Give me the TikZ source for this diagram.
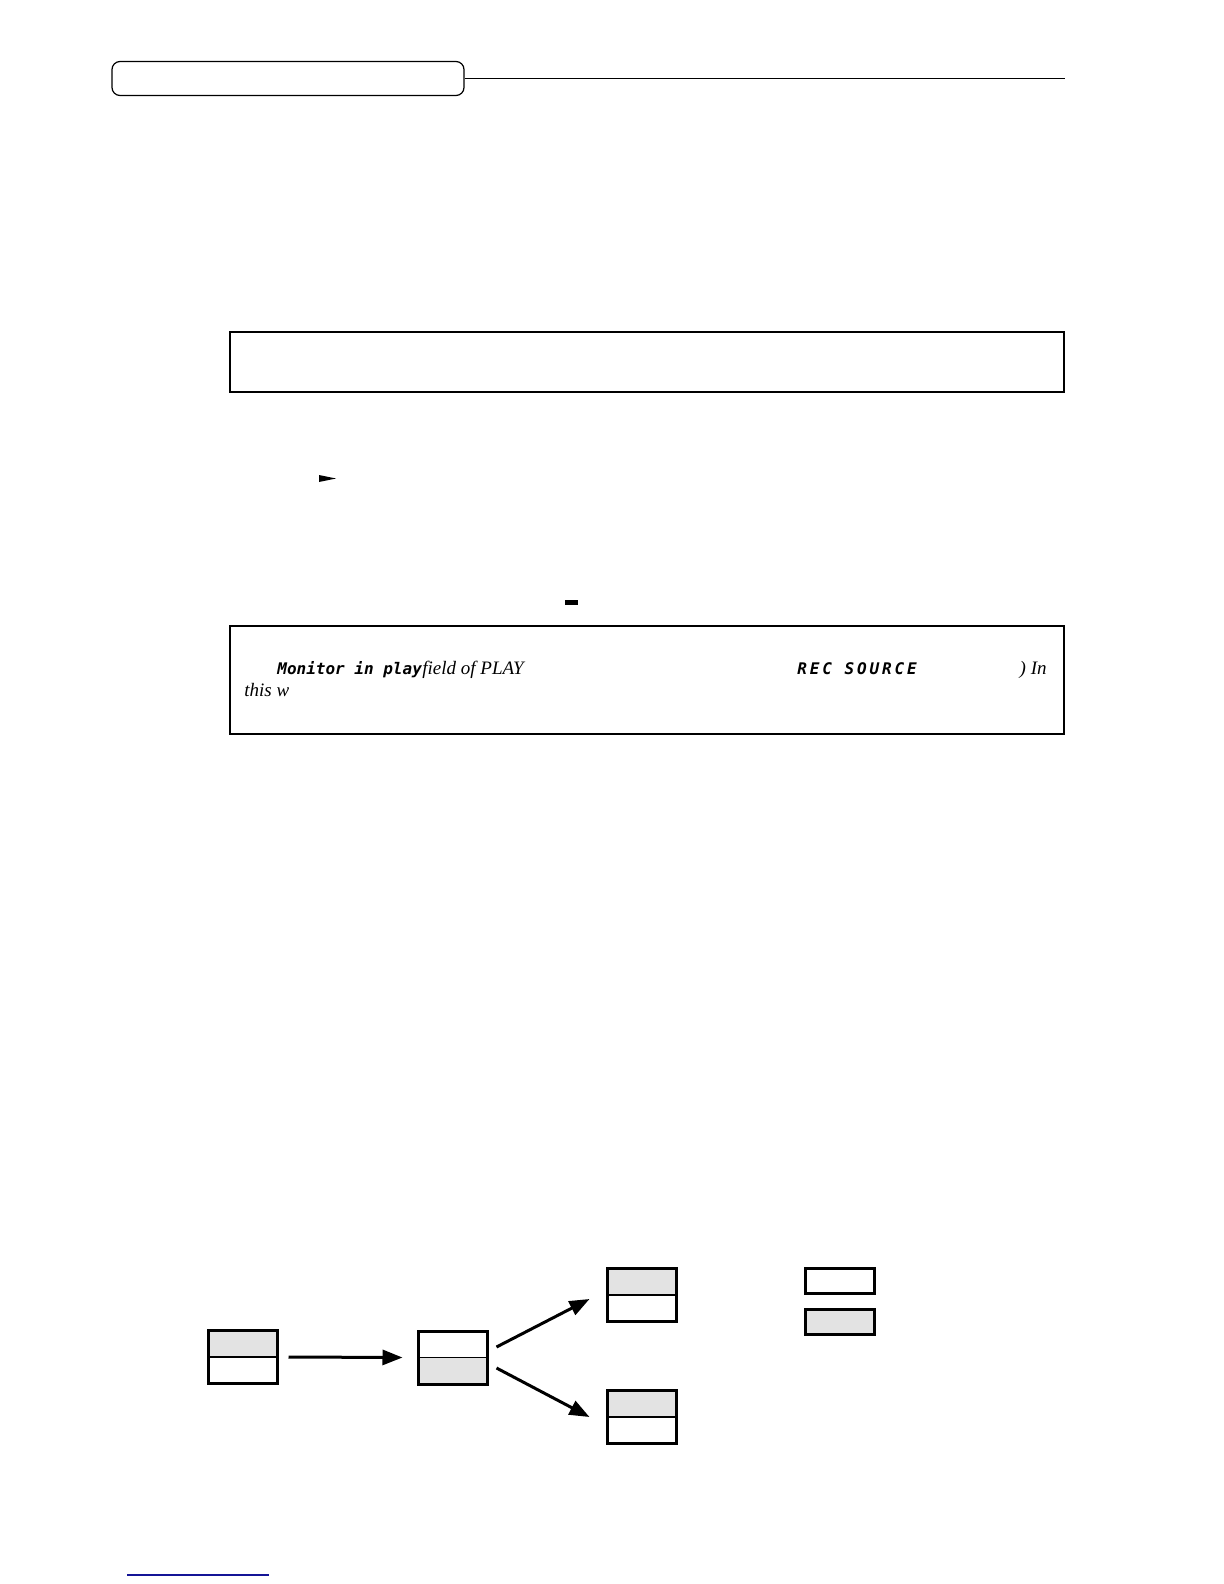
\documentclass[tikz,border=0pt]{standalone}
\usepackage{fontspec}
\setmainfont{Liberation Serif}
\setmonofont{DejaVu Sans Mono}
\usepackage{tikz}
\usetikzlibrary{arrows.meta,calc,positioning}
\definecolor{cellgray}{RGB}{227,227,227}
\definecolor{linkblue}{RGB}{20,20,150}
\tikzset{
cell/.style={draw,line width=1.5pt,minimum width=34.5pt,minimum height=26.5pt,inner sep=0pt},
graytop/.style={cell,path picture={
  \fill[cellgray] (path picture bounding box.north west) rectangle (path picture bounding box.east);
  \draw[line width=0.6pt] (path picture bounding box.west) -- (path picture bounding box.east);}},
graybottom/.style={cell,path picture={
  \fill[cellgray] (path picture bounding box.south west) rectangle (path picture bounding box.east);
  \draw[line width=0.6pt] (path picture bounding box.west) -- (path picture bounding box.east);}},
flow/.style={line width=1.5pt,-{Triangle[length=10pt,width=7.5pt]}},
lcd/.style={font=\fontsize{8}{10}\ttfamily\bfseries\itshape,anchor=base west,inner sep=0pt},
note/.style={font=\fontsize{9.5}{11}\selectfont\itshape,anchor=base west,inner sep=0pt}
}
\begin{document}
\begin{tikzpicture}[x=0.5pt,y=-0.5pt]
\useasboundingbox (0,0) rectangle (1224,1584);

\node (hdr) at (288,78.5) [draw,rounded corners=4pt,line width=0.6pt,minimum width=176pt,minimum height=17pt] {};
\coordinate (hdrend) at (1065,78.5);
\draw[line width=0.5pt] (hdr.east) -- (hdrend);

\node (tipbox) at (646.5,361.5) [draw,line width=1pt,minimum width=417pt,minimum height=30pt] {};

\fill (319,475) -- (336,478.5) -- (319,482) -- cycle;
\fill (565,600) rectangle (578,605);

\node (notebox) at (646.5,679.5) [draw,line width=1pt,minimum width=417pt,minimum height=54pt] {};
\node (mon) at (277,674) [lcd] {Monitor in play};
\node (fld) at (422,674) [note] {field of PLAY};
\node (recsrc) at (797,674) [lcd,font=\fontsize{8}{10}\ttfamily\bfseries\itshape\addfontfeature{LetterSpace=18}] {REC SOURCE};
\node (inw) at (1047,674) [note,anchor=base east] {) In};
\node (thisw) at (244,696) [note] {this w};

\node (src) at (243,1357) [graytop] {};
\node (mid) at (452.5,1357.5) [graybottom] {};
\node (upper) at (642,1295) [graytop] {};
\node (lower) at (642,1417) [graytop] {};
\node (keyoff) at (840,1281) [cell,minimum height=12.5pt] {};
\node (keyon) at (840,1322) [cell,minimum height=12.5pt,fill=cellgray] {};

\draw[flow] ([xshift=4.75pt]src.east) -- ([xshift=-7pt]mid.west);
\draw[flow] ([xshift=4pt,yshift=5.25pt]mid.east) -- ([xshift=-8.25pt,yshift=-2pt]upper.west);
\draw[flow] ([xshift=4pt,yshift=-5.25pt]mid.east) -- ([xshift=-8.25pt]lower.west);

\coordinate (linka) at (127,1575);
\coordinate (linkb) at (269,1575);
\draw[linkblue,line width=0.6pt] (linka) -- (linkb);

\end{tikzpicture}
\end{document}
